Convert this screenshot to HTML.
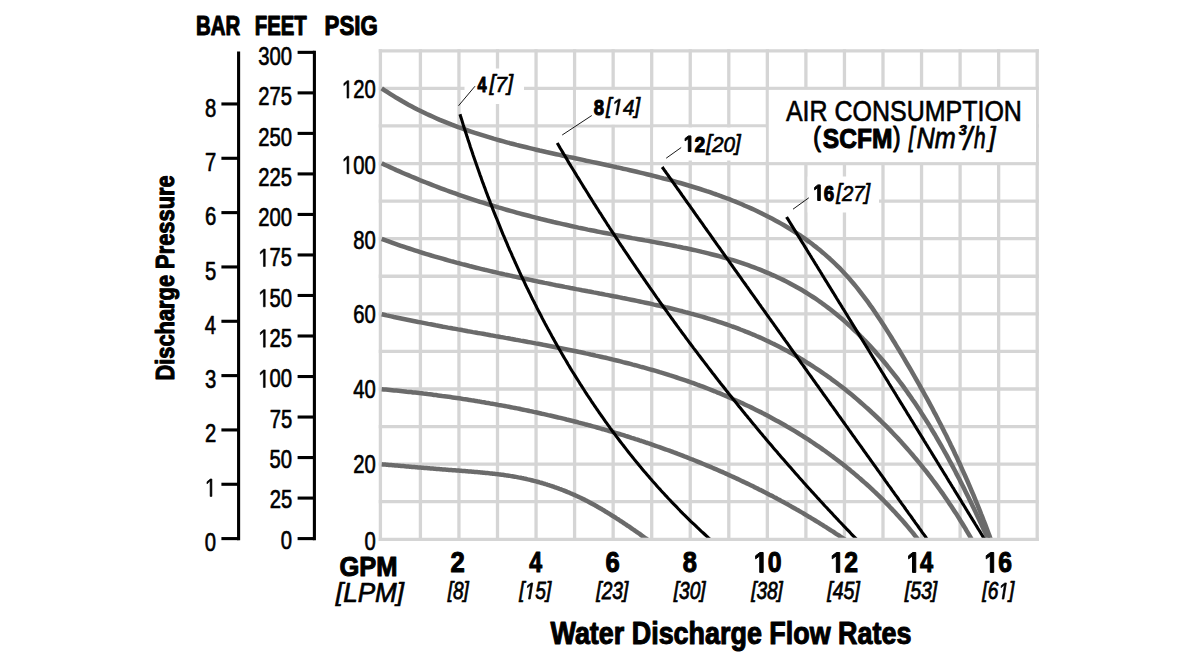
<!DOCTYPE html>
<html><head><meta charset="utf-8"><title>Pump performance curve</title>
<style>html,body{margin:0;padding:0;background:#fff}body{width:1200px;height:660px;overflow:hidden}</style>
</head><body>
<svg width="1200" height="660" viewBox="0 0 1200 660" style="display:block">
<rect width="1200" height="660" fill="#fff"/>
<g stroke="#d5d5d5" stroke-width="3.3" fill="none" stroke-linecap="butt">
<line x1="380.40" y1="49.15" x2="380.40" y2="540.95"/>
<line x1="420.40" y1="49.15" x2="420.40" y2="540.95"/>
<line x1="458.95" y1="49.15" x2="458.95" y2="540.95"/>
<line x1="497.50" y1="49.15" x2="497.50" y2="540.95"/>
<line x1="536.05" y1="49.15" x2="536.05" y2="540.95"/>
<line x1="574.60" y1="49.15" x2="574.60" y2="540.95"/>
<line x1="613.15" y1="49.15" x2="613.15" y2="540.95"/>
<line x1="651.70" y1="49.15" x2="651.70" y2="540.95"/>
<line x1="690.25" y1="49.15" x2="690.25" y2="540.95"/>
<line x1="728.80" y1="49.15" x2="728.80" y2="540.95"/>
<line x1="767.35" y1="49.15" x2="767.35" y2="540.95"/>
<line x1="805.90" y1="49.15" x2="805.90" y2="540.95"/>
<line x1="844.45" y1="49.15" x2="844.45" y2="540.95"/>
<line x1="883.00" y1="49.15" x2="883.00" y2="540.95"/>
<line x1="921.55" y1="49.15" x2="921.55" y2="540.95"/>
<line x1="960.10" y1="49.15" x2="960.10" y2="540.95"/>
<line x1="998.65" y1="49.15" x2="998.65" y2="540.95"/>
<line x1="1037.20" y1="49.15" x2="1037.20" y2="540.95"/>
<line x1="378.75" y1="50.80" x2="1038.85" y2="50.80"/>
<line x1="378.75" y1="88.38" x2="1038.85" y2="88.38"/>
<line x1="378.75" y1="125.95" x2="1038.85" y2="125.95"/>
<line x1="378.75" y1="163.53" x2="1038.85" y2="163.53"/>
<line x1="378.75" y1="201.11" x2="1038.85" y2="201.11"/>
<line x1="378.75" y1="238.68" x2="1038.85" y2="238.68"/>
<line x1="378.75" y1="276.26" x2="1038.85" y2="276.26"/>
<line x1="378.75" y1="313.84" x2="1038.85" y2="313.84"/>
<line x1="378.75" y1="351.42" x2="1038.85" y2="351.42"/>
<line x1="378.75" y1="388.99" x2="1038.85" y2="388.99"/>
<line x1="378.75" y1="426.57" x2="1038.85" y2="426.57"/>
<line x1="378.75" y1="464.15" x2="1038.85" y2="464.15"/>
<line x1="378.75" y1="501.72" x2="1038.85" y2="501.72"/>
<line x1="378.75" y1="539.30" x2="1038.85" y2="539.30"/>
</g>
<rect x="768.8" y="89.9" width="267.20" height="72.20" fill="#fff"/>
<rect x="464.5" y="68.5" width="59.50" height="35.50" fill="#fff"/>
<rect x="576.0" y="89.9" width="74.00" height="34.60" fill="#fff"/>
<rect x="653.2" y="127.5" width="112.50" height="33.00" fill="#fff"/>
<rect x="807.6" y="176.5" width="71.40" height="36.00" fill="#fff"/>
<clipPath id="cp"><rect x="370" y="40" width="680" height="497.65"/></clipPath>
<g clip-path="url(#cp)" fill="none" stroke-linecap="butt" stroke-linejoin="round">
<g stroke="#6b6b6b" stroke-width="4.5">
<path d="M381.7,88.3 L384.6,90.3 L387.5,92.2 L390.5,94.1 L393.4,95.9 L396.4,97.8 L399.4,99.5 L402.4,101.3 L405.4,103.0 L408.4,104.7 L411.4,106.3 L414.5,107.9 L417.5,109.5 L420.6,111.0 L423.7,112.5 L426.8,114.0 L429.9,115.4 L433.0,116.8 L436.1,118.2 L439.2,119.6 L442.3,120.9 L445.5,122.2 L448.6,123.4 L451.8,124.7 L455.0,125.9 L458.2,127.1 L461.4,128.2 L464.6,129.4 L467.8,130.5 L471.0,131.6 L474.2,132.7 L477.4,133.7 L480.6,134.7 L483.9,135.7 L487.1,136.7 L490.4,137.7 L493.6,138.7 L496.9,139.6 L500.1,140.5 L503.4,141.4 L506.7,142.3 L509.9,143.2 L513.2,144.0 L516.5,144.9 L519.8,145.7 L523.1,146.5 L526.4,147.3 L529.7,148.1 L533.0,148.9 L536.3,149.7 L539.6,150.5 L542.9,151.2 L546.2,152.0 L549.5,152.7 L552.9,153.5 L556.2,154.2 L559.5,154.9 L562.9,155.7 L566.2,156.4 L569.5,157.1 L572.9,157.8 L576.2,158.5 L579.6,159.2 L582.9,159.9 L586.2,160.7 L589.6,161.4 L593.0,162.1 L596.3,162.8 L599.7,163.5 L603.0,164.2 L606.4,165.0 L609.8,165.7 L613.1,166.4 L616.5,167.2 L619.9,167.9 L623.2,168.7 L626.6,169.4 L630.0,170.2 L633.4,171.0 L636.7,171.8 L640.1,172.6 L643.5,173.4 L646.8,174.2 L650.2,175.0 L653.6,175.9 L656.9,176.7 L660.3,177.6 L663.6,178.5 L667.0,179.3 L670.3,180.2 L673.7,181.2 L677.0,182.1 L680.3,183.0 L683.6,184.0 L686.9,185.0 L690.2,186.0 L693.5,187.0 L696.8,188.0 L700.1,189.0 L703.4,190.1 L706.6,191.2 L709.9,192.2 L713.1,193.4 L716.4,194.5 L719.6,195.7 L722.8,196.8 L726.0,198.0 L729.2,199.2 L732.4,200.5 L735.5,201.7 L738.7,203.0 L741.8,204.3 L744.9,205.7 L748.0,207.0 L751.1,208.4 L754.2,209.8 L757.3,211.2 L760.3,212.7 L763.3,214.2 L766.3,215.7 L769.3,217.2 L772.3,218.8 L775.3,220.4 L778.2,222.0 L781.1,223.6 L784.0,225.3 L786.9,227.0 L789.8,228.8 L792.6,230.5 L795.4,232.3 L798.2,234.2 L801.0,236.0 L803.7,237.9 L806.5,239.9 L809.2,241.8 L811.9,243.8 L814.5,245.9 L817.1,247.9 L819.8,250.1 L822.3,252.2 L824.9,254.4 L827.4,256.6 L829.9,258.8 L832.4,261.1 L834.9,263.5 L837.3,265.8 L839.7,268.2 L842.1,270.7 L844.4,273.2 L846.7,275.7 L849.0,278.3 L851.3,280.9 L853.5,283.5 L855.7,286.1 L857.9,288.8 L860.0,291.6 L862.1,294.3 L864.2,297.1 L866.3,299.9 L868.4,302.7 L870.4,305.6 L872.5,308.4 L874.4,311.3 L876.4,314.2 L878.4,317.2 L880.3,320.1 L882.2,323.0 L884.2,326.0 L886.0,328.9 L887.9,331.9 L889.8,334.9 L891.6,337.8 L893.4,340.8 L895.3,343.8 L897.1,346.8 L898.9,349.7 L900.6,352.7 L902.4,355.7 L904.2,358.6 L905.9,361.6 L907.6,364.5 L909.4,367.5 L911.1,370.4 L912.8,373.4 L914.5,376.3 L916.2,379.3 L917.8,382.2 L919.5,385.1 L921.1,388.1 L922.8,391.0 L924.4,394.0 L926.0,396.9 L927.7,399.9 L929.3,402.9 L930.9,405.8 L932.5,408.8 L934.0,411.8 L935.6,414.7 L937.2,417.7 L938.7,420.7 L940.3,423.7 L941.8,426.7 L943.3,429.8 L944.8,432.8 L946.4,435.8 L947.9,438.9 L949.4,441.9 L950.8,445.0 L952.3,448.1 L953.8,451.1 L955.2,454.2 L956.7,457.3 L958.1,460.4 L959.6,463.5 L961.0,466.6 L962.4,469.8 L963.8,472.9 L965.2,476.0 L966.6,479.2 L968.0,482.3 L969.3,485.4 L970.7,488.6 L972.0,491.8 L973.4,494.9 L974.7,498.1 L976.0,501.3 L977.3,504.4 L978.6,507.6 L979.9,510.8 L981.1,514.0 L982.4,517.2 L983.6,520.4 L984.9,523.6 L986.1,526.8 L987.3,530.0 L988.5,533.2 L989.7,536.4 L990.8,539.6 L992.0,542.8 L993.1,546.0"/>
<path d="M381.7,163.3 L384.6,164.7 L387.6,166.0 L390.5,167.4 L393.5,168.7 L396.4,170.1 L399.4,171.4 L402.3,172.7 L405.3,174.0 L408.2,175.2 L411.2,176.5 L414.1,177.7 L417.1,178.9 L420.1,180.2 L423.0,181.4 L426.0,182.5 L429.0,183.7 L432.0,184.9 L434.9,186.0 L437.9,187.2 L440.9,188.3 L443.9,189.4 L446.9,190.5 L449.9,191.6 L452.9,192.7 L455.9,193.7 L458.9,194.8 L461.9,195.8 L464.9,196.8 L467.9,197.8 L470.9,198.8 L473.9,199.8 L477.0,200.8 L480.0,201.8 L483.0,202.7 L486.0,203.7 L489.1,204.6 L492.1,205.5 L495.1,206.4 L498.2,207.4 L501.2,208.2 L504.3,209.1 L507.3,210.0 L510.4,210.9 L513.4,211.7 L516.5,212.6 L519.5,213.4 L522.6,214.2 L525.7,215.0 L528.8,215.8 L531.8,216.6 L534.9,217.4 L538.0,218.2 L541.1,219.0 L544.2,219.7 L547.3,220.5 L550.4,221.2 L553.5,222.0 L556.6,222.7 L559.7,223.4 L562.8,224.1 L565.9,224.8 L569.0,225.5 L572.1,226.2 L575.3,226.9 L578.4,227.6 L581.5,228.2 L584.7,228.9 L587.8,229.6 L591.0,230.2 L594.1,230.8 L597.3,231.5 L600.4,232.1 L603.6,232.7 L606.7,233.3 L609.9,233.9 L613.1,234.5 L616.2,235.1 L619.4,235.7 L622.6,236.3 L625.8,236.9 L629.0,237.5 L632.2,238.1 L635.4,238.6 L638.5,239.2 L641.7,239.8 L644.9,240.4 L648.1,240.9 L651.3,241.5 L654.5,242.1 L657.7,242.7 L660.9,243.3 L664.1,243.9 L667.3,244.5 L670.4,245.1 L673.6,245.7 L676.8,246.4 L680.0,247.0 L683.1,247.7 L686.3,248.3 L689.5,249.0 L692.6,249.7 L695.8,250.4 L698.9,251.1 L702.1,251.9 L705.2,252.6 L708.3,253.4 L711.4,254.2 L714.5,255.0 L717.6,255.8 L720.7,256.6 L723.8,257.5 L726.9,258.4 L730.0,259.3 L733.0,260.2 L736.1,261.2 L739.1,262.1 L742.1,263.1 L745.1,264.2 L748.1,265.2 L751.1,266.3 L754.1,267.4 L757.0,268.5 L760.0,269.7 L762.9,270.9 L765.8,272.1 L768.8,273.3 L771.6,274.6 L774.5,275.8 L777.4,277.2 L780.2,278.5 L783.1,279.9 L785.9,281.3 L788.7,282.7 L791.4,284.2 L794.2,285.7 L796.9,287.2 L799.7,288.7 L802.4,290.3 L805.1,292.0 L807.7,293.6 L810.4,295.3 L813.0,297.0 L815.6,298.7 L818.2,300.5 L820.8,302.3 L823.3,304.2 L825.8,306.0 L828.3,307.9 L830.8,309.8 L833.3,311.8 L835.8,313.8 L838.2,315.8 L840.6,317.8 L843.0,319.8 L845.4,321.9 L847.8,324.0 L850.1,326.2 L852.4,328.3 L854.7,330.5 L857.0,332.7 L859.3,334.9 L861.5,337.2 L863.8,339.5 L866.0,341.7 L868.2,344.1 L870.4,346.4 L872.6,348.8 L874.7,351.1 L876.8,353.5 L879.0,355.9 L881.1,358.4 L883.1,360.8 L885.2,363.3 L887.3,365.8 L889.3,368.3 L891.3,370.8 L893.3,373.3 L895.3,375.9 L897.3,378.4 L899.2,381.0 L901.2,383.6 L903.1,386.2 L905.0,388.8 L906.9,391.5 L908.7,394.1 L910.6,396.8 L912.4,399.5 L914.3,402.1 L916.1,404.8 L917.9,407.5 L919.7,410.2 L921.4,413.0 L923.2,415.7 L924.9,418.4 L926.7,421.2 L928.4,423.9 L930.1,426.7 L931.7,429.5 L933.4,432.2 L935.1,435.0 L936.7,437.8 L938.3,440.6 L939.9,443.4 L941.5,446.2 L943.1,449.0 L944.7,451.8 L946.3,454.6 L947.8,457.4 L949.3,460.2 L950.9,463.1 L952.4,465.9 L953.9,468.7 L955.4,471.5 L956.8,474.4 L958.3,477.2 L959.8,480.0 L961.2,482.9 L962.7,485.7 L964.1,488.6 L965.5,491.4 L966.9,494.3 L968.3,497.1 L969.7,500.0 L971.1,502.8 L972.5,505.7 L973.9,508.6 L975.3,511.4 L976.6,514.3 L978.0,517.2 L979.3,520.0 L980.7,522.9 L982.0,525.8 L983.4,528.7 L984.7,531.5 L986.1,534.4 L987.4,537.3 L988.7,540.2 L990.1,543.1 L991.4,546.0"/>
<path d="M381.7,238.9 L384.4,239.9 L387.2,240.9 L389.9,241.9 L392.6,242.9 L395.4,243.9 L398.1,244.8 L400.9,245.8 L403.6,246.7 L406.4,247.6 L409.1,248.5 L411.9,249.4 L414.7,250.3 L417.4,251.2 L420.2,252.1 L423.0,253.0 L425.7,253.8 L428.5,254.6 L431.3,255.5 L434.1,256.3 L436.9,257.1 L439.7,257.9 L442.5,258.7 L445.3,259.5 L448.1,260.3 L450.9,261.1 L453.7,261.8 L456.5,262.6 L459.3,263.3 L462.1,264.1 L464.9,264.8 L467.7,265.5 L470.5,266.3 L473.4,267.0 L476.2,267.7 L479.0,268.4 L481.8,269.1 L484.7,269.8 L487.5,270.4 L490.4,271.1 L493.2,271.8 L496.0,272.4 L498.9,273.1 L501.7,273.7 L504.6,274.4 L507.4,275.0 L510.3,275.6 L513.1,276.3 L516.0,276.9 L518.8,277.5 L521.7,278.1 L524.6,278.7 L527.4,279.3 L530.3,279.9 L533.1,280.5 L536.0,281.1 L538.9,281.7 L541.7,282.3 L544.6,282.9 L547.5,283.4 L550.4,284.0 L553.2,284.6 L556.1,285.2 L559.0,285.7 L561.9,286.3 L564.8,286.9 L567.6,287.4 L570.5,288.0 L573.4,288.5 L576.3,289.1 L579.2,289.6 L582.1,290.2 L585.0,290.7 L587.8,291.3 L590.7,291.8 L593.6,292.4 L596.5,292.9 L599.4,293.5 L602.3,294.0 L605.2,294.6 L608.1,295.1 L610.9,295.7 L613.8,296.3 L616.7,296.8 L619.6,297.4 L622.5,298.0 L625.4,298.5 L628.2,299.1 L631.1,299.7 L634.0,300.3 L636.9,300.9 L639.7,301.5 L642.6,302.1 L645.5,302.7 L648.3,303.3 L651.2,303.9 L654.1,304.6 L656.9,305.2 L659.8,305.8 L662.6,306.5 L665.5,307.2 L668.3,307.8 L671.2,308.5 L674.0,309.2 L676.8,309.9 L679.6,310.6 L682.5,311.3 L685.3,312.1 L688.1,312.8 L690.9,313.6 L693.7,314.3 L696.5,315.1 L699.3,315.9 L702.1,316.7 L704.9,317.5 L707.6,318.3 L710.4,319.2 L713.2,320.0 L715.9,320.9 L718.7,321.8 L721.4,322.7 L724.2,323.6 L726.9,324.5 L729.6,325.5 L732.3,326.5 L735.0,327.4 L737.7,328.4 L740.4,329.5 L743.1,330.5 L745.8,331.6 L748.5,332.6 L751.1,333.7 L753.8,334.8 L756.4,336.0 L759.1,337.1 L761.7,338.3 L764.3,339.5 L766.9,340.7 L769.5,341.9 L772.1,343.2 L774.7,344.4 L777.3,345.7 L779.8,347.0 L782.4,348.4 L784.9,349.7 L787.5,351.1 L790.0,352.5 L792.5,353.9 L795.0,355.3 L797.5,356.8 L800.0,358.3 L802.5,359.7 L805.0,361.3 L807.4,362.8 L809.9,364.3 L812.3,365.9 L814.7,367.5 L817.1,369.1 L819.5,370.7 L821.9,372.3 L824.3,374.0 L826.7,375.7 L829.1,377.3 L831.4,379.1 L833.8,380.8 L836.1,382.5 L838.4,384.3 L840.7,386.0 L843.0,387.8 L845.3,389.6 L847.6,391.4 L849.9,393.3 L852.1,395.1 L854.4,397.0 L856.6,398.9 L858.8,400.8 L861.0,402.7 L863.2,404.6 L865.4,406.6 L867.6,408.5 L869.8,410.5 L871.9,412.5 L874.1,414.5 L876.2,416.5 L878.3,418.5 L880.4,420.5 L882.5,422.6 L884.6,424.6 L886.7,426.7 L888.8,428.8 L890.8,430.9 L892.8,433.0 L894.9,435.2 L896.9,437.3 L898.9,439.4 L900.9,441.6 L902.8,443.8 L904.8,446.0 L906.8,448.2 L908.7,450.4 L910.6,452.6 L912.5,454.8 L914.4,457.1 L916.3,459.3 L918.2,461.6 L920.1,463.9 L921.9,466.1 L923.7,468.4 L925.6,470.7 L927.4,473.0 L929.2,475.4 L931.0,477.7 L932.7,480.0 L934.5,482.4 L936.2,484.7 L938.0,487.1 L939.7,489.5 L941.4,491.9 L943.1,494.2 L944.7,496.6 L946.4,499.0 L948.1,501.5 L949.7,503.9 L951.3,506.3 L952.9,508.7 L954.5,511.2 L956.1,513.6 L957.7,516.1 L959.2,518.5 L960.7,521.0 L962.3,523.5 L963.8,526.0 L965.3,528.4 L966.7,530.9 L968.2,533.4 L969.7,535.9 L971.1,538.4 L972.5,541.0 L973.9,543.5 L975.3,546.0"/>
<path d="M381.7,314.3 L384.1,314.8 L386.6,315.4 L389.0,315.9 L391.4,316.4 L393.9,317.0 L396.3,317.5 L398.7,318.0 L401.2,318.5 L403.6,319.0 L406.1,319.5 L408.5,320.0 L411.0,320.5 L413.4,321.0 L415.9,321.5 L418.3,322.0 L420.8,322.4 L423.3,322.9 L425.7,323.4 L428.2,323.9 L430.7,324.3 L433.1,324.8 L435.6,325.3 L438.1,325.7 L440.6,326.2 L443.0,326.7 L445.5,327.1 L448.0,327.6 L450.5,328.0 L453.0,328.5 L455.5,328.9 L458.0,329.4 L460.5,329.8 L463.0,330.3 L465.4,330.7 L467.9,331.2 L470.4,331.6 L472.9,332.1 L475.4,332.5 L477.9,333.0 L480.4,333.4 L482.9,333.8 L485.5,334.3 L488.0,334.7 L490.5,335.2 L493.0,335.6 L495.5,336.1 L498.0,336.5 L500.5,337.0 L503.0,337.4 L505.5,337.9 L508.0,338.3 L510.5,338.8 L513.0,339.2 L515.6,339.7 L518.1,340.1 L520.6,340.6 L523.1,341.0 L525.6,341.5 L528.1,342.0 L530.6,342.4 L533.1,342.9 L535.6,343.4 L538.2,343.8 L540.7,344.3 L543.2,344.8 L545.7,345.2 L548.2,345.7 L550.7,346.2 L553.2,346.7 L555.7,347.2 L558.2,347.7 L560.7,348.2 L563.2,348.7 L565.7,349.2 L568.2,349.7 L570.8,350.2 L573.3,350.7 L575.8,351.2 L578.3,351.8 L580.8,352.3 L583.2,352.8 L585.7,353.4 L588.2,353.9 L590.7,354.5 L593.2,355.0 L595.7,355.6 L598.2,356.1 L600.7,356.7 L603.2,357.3 L605.7,357.8 L608.1,358.4 L610.6,359.0 L613.1,359.6 L615.6,360.2 L618.0,360.8 L620.5,361.4 L623.0,362.1 L625.5,362.7 L627.9,363.3 L630.4,363.9 L632.8,364.6 L635.3,365.2 L637.8,365.9 L640.2,366.6 L642.7,367.2 L645.1,367.9 L647.5,368.6 L650.0,369.3 L652.4,370.0 L654.9,370.7 L657.3,371.4 L659.7,372.2 L662.2,372.9 L664.6,373.6 L667.0,374.4 L669.4,375.2 L671.8,375.9 L674.2,376.7 L676.7,377.5 L679.1,378.3 L681.5,379.1 L683.9,379.9 L686.2,380.7 L688.6,381.5 L691.0,382.4 L693.4,383.2 L695.8,384.1 L698.2,385.0 L700.5,385.8 L702.9,386.7 L705.3,387.6 L707.6,388.5 L710.0,389.5 L712.3,390.4 L714.7,391.3 L717.0,392.3 L719.3,393.2 L721.7,394.2 L724.0,395.2 L726.3,396.1 L728.7,397.1 L731.0,398.1 L733.3,399.2 L735.6,400.2 L737.9,401.2 L740.2,402.3 L742.5,403.3 L744.7,404.4 L747.0,405.5 L749.3,406.5 L751.6,407.6 L753.8,408.7 L756.1,409.9 L758.3,411.0 L760.6,412.1 L762.8,413.3 L765.1,414.4 L767.3,415.6 L769.5,416.8 L771.7,418.0 L773.9,419.2 L776.1,420.4 L778.3,421.6 L780.5,422.8 L782.7,424.0 L784.9,425.3 L787.1,426.6 L789.2,427.8 L791.4,429.1 L793.6,430.4 L795.7,431.7 L797.9,433.0 L800.0,434.3 L802.1,435.7 L804.2,437.0 L806.4,438.4 L808.5,439.7 L810.6,441.1 L812.7,442.5 L814.7,443.9 L816.8,445.3 L818.9,446.7 L821.0,448.1 L823.0,449.6 L825.1,451.0 L827.1,452.5 L829.2,454.0 L831.2,455.5 L833.2,456.9 L835.2,458.5 L837.2,460.0 L839.2,461.5 L841.2,463.0 L843.2,464.6 L845.2,466.1 L847.1,467.7 L849.1,469.3 L851.0,470.9 L853.0,472.5 L854.9,474.1 L856.8,475.7 L858.7,477.4 L860.6,479.0 L862.5,480.7 L864.4,482.4 L866.3,484.0 L868.2,485.7 L870.0,487.4 L871.9,489.2 L873.7,490.9 L875.6,492.6 L877.4,494.4 L879.2,496.1 L881.0,497.9 L882.8,499.7 L884.6,501.5 L886.4,503.3 L888.2,505.1 L889.9,507.0 L891.7,508.8 L893.4,510.7 L895.2,512.5 L896.9,514.4 L898.6,516.3 L900.3,518.2 L902.0,520.1 L903.7,522.0 L905.4,524.0 L907.0,525.9 L908.7,527.9 L910.3,529.9 L912.0,531.9 L913.6,533.8 L915.2,535.9 L916.8,537.9 L918.4,539.9 L920.0,542.0 L921.5,544.0 L923.1,546.1"/>
<path d="M381.7,389.2 L383.8,389.4 L385.9,389.6 L388.0,389.8 L390.1,390.0 L392.1,390.2 L394.2,390.4 L396.3,390.6 L398.4,390.8 L400.5,391.0 L402.6,391.2 L404.7,391.4 L406.7,391.7 L408.8,391.9 L410.9,392.1 L413.0,392.4 L415.1,392.6 L417.2,392.8 L419.3,393.1 L421.4,393.3 L423.4,393.6 L425.5,393.8 L427.6,394.1 L429.7,394.3 L431.8,394.6 L433.9,394.9 L436.0,395.1 L438.0,395.4 L440.1,395.7 L442.2,396.0 L444.3,396.2 L446.4,396.5 L448.5,396.8 L450.6,397.1 L452.6,397.4 L454.7,397.7 L456.8,398.0 L458.9,398.3 L461.0,398.6 L463.1,399.0 L465.2,399.3 L467.2,399.6 L469.3,399.9 L471.4,400.3 L473.5,400.6 L475.6,400.9 L477.6,401.3 L479.7,401.6 L481.8,402.0 L483.9,402.3 L486.0,402.7 L488.0,403.0 L490.1,403.4 L492.2,403.7 L494.3,404.1 L496.4,404.5 L498.4,404.9 L500.5,405.2 L502.6,405.6 L504.7,406.0 L506.7,406.4 L508.8,406.8 L510.9,407.2 L512.9,407.6 L515.0,408.0 L517.1,408.4 L519.2,408.8 L521.2,409.3 L523.3,409.7 L525.4,410.1 L527.4,410.5 L529.5,411.0 L531.6,411.4 L533.6,411.9 L535.7,412.3 L537.7,412.7 L539.8,413.2 L541.9,413.7 L543.9,414.1 L546.0,414.6 L548.1,415.1 L550.1,415.5 L552.2,416.0 L554.2,416.5 L556.3,417.0 L558.3,417.5 L560.4,417.9 L562.4,418.4 L564.5,418.9 L566.5,419.5 L568.6,420.0 L570.6,420.5 L572.7,421.0 L574.7,421.5 L576.8,422.0 L578.8,422.6 L580.9,423.1 L582.9,423.6 L584.9,424.2 L587.0,424.7 L589.0,425.3 L591.0,425.8 L593.1,426.4 L595.1,426.9 L597.1,427.5 L599.2,428.1 L601.2,428.7 L603.2,429.2 L605.3,429.8 L607.3,430.4 L609.3,431.0 L611.3,431.6 L613.4,432.2 L615.4,432.8 L617.4,433.4 L619.4,434.0 L621.4,434.6 L623.4,435.2 L625.5,435.9 L627.5,436.5 L629.5,437.1 L631.5,437.8 L633.5,438.4 L635.5,439.1 L637.5,439.7 L639.5,440.4 L641.5,441.0 L643.5,441.7 L645.5,442.4 L647.5,443.0 L649.5,443.7 L651.5,444.4 L653.5,445.1 L655.5,445.8 L657.5,446.5 L659.5,447.2 L661.4,447.9 L663.4,448.6 L665.4,449.3 L667.4,450.0 L669.4,450.7 L671.3,451.4 L673.3,452.2 L675.3,452.9 L677.3,453.7 L679.2,454.4 L681.2,455.1 L683.2,455.9 L685.1,456.7 L687.1,457.4 L689.0,458.2 L691.0,459.0 L693.0,459.7 L694.9,460.5 L696.9,461.3 L698.8,462.1 L700.8,462.9 L702.7,463.7 L704.6,464.5 L706.6,465.3 L708.5,466.1 L710.5,466.9 L712.4,467.8 L714.3,468.6 L716.3,469.4 L718.2,470.2 L720.1,471.1 L722.1,471.9 L724.0,472.8 L725.9,473.6 L727.8,474.5 L729.7,475.4 L731.6,476.2 L733.6,477.1 L735.5,478.0 L737.4,478.9 L739.3,479.8 L741.2,480.7 L743.1,481.6 L745.0,482.5 L746.9,483.4 L748.8,484.3 L750.7,485.2 L752.5,486.1 L754.4,487.1 L756.3,488.0 L758.2,488.9 L760.1,489.9 L762.0,490.8 L763.8,491.8 L765.7,492.7 L767.6,493.7 L769.4,494.7 L771.3,495.6 L773.2,496.6 L775.0,497.6 L776.9,498.6 L778.7,499.6 L780.6,500.6 L782.4,501.6 L784.3,502.6 L786.1,503.6 L788.0,504.6 L789.8,505.6 L791.6,506.7 L793.5,507.7 L795.3,508.7 L797.1,509.8 L799.0,510.8 L800.8,511.9 L802.6,512.9 L804.4,514.0 L806.2,515.1 L808.0,516.2 L809.8,517.2 L811.6,518.3 L813.4,519.4 L815.2,520.5 L817.0,521.6 L818.8,522.7 L820.6,523.8 L822.4,524.9 L824.2,526.1 L826.0,527.2 L827.8,528.3 L829.5,529.5 L831.3,530.6 L833.1,531.7 L834.8,532.9 L836.6,534.1 L838.4,535.2 L840.1,536.4 L841.9,537.6 L843.6,538.7 L845.4,539.9 L847.1,541.1 L848.9,542.3 L850.6,543.5 L852.3,544.7 L854.1,545.9"/>
<path d="M381.7,464.3 L382.9,464.4 L384.1,464.5 L385.3,464.6 L386.5,464.7 L387.7,464.8 L388.9,464.9 L390.1,465.0 L391.3,465.1 L392.6,465.2 L393.8,465.3 L395.0,465.4 L396.2,465.5 L397.4,465.6 L398.6,465.7 L399.8,465.8 L401.0,465.9 L402.3,466.0 L403.5,466.1 L404.7,466.2 L405.9,466.4 L407.1,466.5 L408.4,466.6 L409.6,466.7 L410.8,466.8 L412.0,466.9 L413.2,467.0 L414.5,467.1 L415.7,467.2 L416.9,467.3 L418.1,467.4 L419.4,467.5 L420.6,467.6 L421.8,467.7 L423.0,467.8 L424.3,467.9 L425.5,468.0 L426.7,468.1 L428.0,468.2 L429.2,468.3 L430.4,468.4 L431.6,468.5 L432.9,468.6 L434.1,468.7 L435.3,468.8 L436.6,468.9 L437.8,469.0 L439.0,469.1 L440.3,469.2 L441.5,469.3 L442.7,469.4 L443.9,469.5 L445.2,469.6 L446.4,469.7 L447.6,469.8 L448.9,469.9 L450.1,470.0 L451.3,470.1 L452.6,470.2 L453.8,470.3 L455.0,470.3 L456.3,470.4 L457.5,470.5 L458.7,470.6 L459.9,470.7 L461.2,470.8 L462.4,470.9 L463.6,471.0 L464.9,471.1 L466.1,471.2 L467.3,471.3 L468.6,471.4 L469.8,471.5 L471.0,471.6 L472.2,471.7 L473.5,471.8 L474.7,471.9 L475.9,472.0 L477.1,472.1 L478.4,472.2 L479.6,472.3 L480.8,472.4 L482.0,472.5 L483.3,472.7 L484.5,472.8 L485.7,472.9 L486.9,473.0 L488.1,473.1 L489.4,473.3 L490.6,473.4 L491.8,473.5 L493.0,473.7 L494.2,473.8 L495.4,473.9 L496.6,474.1 L497.9,474.2 L499.1,474.4 L500.3,474.5 L501.5,474.7 L502.7,474.8 L503.9,475.0 L505.1,475.2 L506.3,475.4 L507.5,475.5 L508.7,475.7 L509.9,475.9 L511.1,476.1 L512.3,476.3 L513.5,476.5 L514.7,476.7 L515.9,476.9 L517.1,477.1 L518.3,477.4 L519.5,477.6 L520.7,477.8 L521.9,478.1 L523.1,478.3 L524.3,478.6 L525.5,478.8 L526.7,479.1 L527.8,479.4 L529.0,479.6 L530.2,479.9 L531.4,480.2 L532.6,480.5 L533.7,480.8 L534.9,481.1 L536.1,481.4 L537.3,481.7 L538.4,482.0 L539.6,482.4 L540.8,482.7 L541.9,483.0 L543.1,483.4 L544.3,483.7 L545.4,484.1 L546.6,484.4 L547.7,484.8 L548.9,485.2 L550.1,485.6 L551.2,485.9 L552.4,486.3 L553.5,486.7 L554.6,487.1 L555.8,487.5 L556.9,487.9 L558.1,488.3 L559.2,488.8 L560.4,489.2 L561.5,489.6 L562.6,490.0 L563.7,490.5 L564.9,490.9 L566.0,491.4 L567.1,491.9 L568.3,492.3 L569.4,492.8 L570.5,493.3 L571.6,493.7 L572.7,494.2 L573.8,494.7 L575.0,495.2 L576.1,495.7 L577.2,496.2 L578.3,496.7 L579.4,497.3 L580.5,497.8 L581.6,498.3 L582.7,498.9 L583.8,499.4 L584.9,499.9 L586.0,500.5 L587.1,501.1 L588.1,501.6 L589.2,502.2 L590.3,502.8 L591.4,503.4 L592.5,503.9 L593.6,504.5 L594.6,505.1 L595.7,505.7 L596.8,506.3 L597.9,507.0 L598.9,507.6 L600.0,508.2 L601.1,508.8 L602.1,509.4 L603.2,510.1 L604.3,510.7 L605.3,511.4 L606.4,512.0 L607.4,512.6 L608.5,513.3 L609.5,513.9 L610.6,514.6 L611.6,515.3 L612.7,515.9 L613.7,516.6 L614.8,517.2 L615.8,517.9 L616.9,518.6 L617.9,519.2 L618.9,519.9 L620.0,520.6 L621.0,521.3 L622.0,521.9 L623.1,522.6 L624.1,523.3 L625.1,524.0 L626.1,524.7 L627.1,525.4 L628.2,526.0 L629.2,526.7 L630.2,527.4 L631.2,528.1 L632.2,528.8 L633.2,529.5 L634.2,530.2 L635.2,530.9 L636.3,531.6 L637.3,532.3 L638.3,533.0 L639.3,533.7 L640.3,534.4 L641.2,535.1 L642.2,535.9 L643.2,536.6 L644.2,537.3 L645.2,538.0 L646.2,538.7 L647.2,539.4 L648.2,540.2 L649.1,540.9 L650.1,541.6 L651.1,542.3 L652.1,543.1 L653.1,543.8 L654.0,544.5 L655.0,545.3 L656.0,546.0"/>
</g>
<g stroke="#000" stroke-width="3.1">
<path d="M460.0,114.3 L460.6,116.3 L461.3,118.4 L461.9,120.4 L462.5,122.4 L463.1,124.4 L463.8,126.5 L464.4,128.5 L465.1,130.5 L465.7,132.5 L466.4,134.5 L467.0,136.6 L467.7,138.6 L468.3,140.6 L469.0,142.6 L469.7,144.6 L470.3,146.7 L471.0,148.7 L471.7,150.7 L472.4,152.7 L473.0,154.7 L473.7,156.7 L474.4,158.8 L475.1,160.8 L475.8,162.8 L476.5,164.8 L477.2,166.8 L477.9,168.8 L478.6,170.8 L479.3,172.8 L480.0,174.8 L480.8,176.8 L481.5,178.9 L482.2,180.9 L482.9,182.9 L483.7,184.9 L484.4,186.9 L485.2,188.9 L485.9,190.9 L486.6,192.9 L487.4,194.9 L488.1,196.9 L488.9,198.9 L489.7,200.8 L490.4,202.8 L491.2,204.8 L492.0,206.8 L492.7,208.8 L493.5,210.8 L494.3,212.8 L495.1,214.8 L495.9,216.8 L496.7,218.7 L497.5,220.7 L498.3,222.7 L499.1,224.7 L499.9,226.7 L500.7,228.6 L501.5,230.6 L502.3,232.6 L503.1,234.6 L504.0,236.5 L504.8,238.5 L505.6,240.5 L506.5,242.4 L507.3,244.4 L508.1,246.4 L509.0,248.3 L509.8,250.3 L510.7,252.2 L511.6,254.2 L512.4,256.1 L513.3,258.1 L514.2,260.0 L515.0,262.0 L515.9,263.9 L516.8,265.9 L517.7,267.8 L518.6,269.8 L519.4,271.7 L520.3,273.7 L521.2,275.6 L522.1,277.5 L523.1,279.5 L524.0,281.4 L524.9,283.3 L525.8,285.3 L526.7,287.2 L527.7,289.1 L528.6,291.0 L529.5,292.9 L530.5,294.9 L531.4,296.8 L532.3,298.7 L533.3,300.6 L534.3,302.5 L535.2,304.4 L536.2,306.3 L537.1,308.2 L538.1,310.1 L539.1,312.0 L540.1,313.9 L541.1,315.8 L542.0,317.7 L543.0,319.6 L544.0,321.5 L545.0,323.4 L546.0,325.2 L547.0,327.1 L548.0,329.0 L549.1,330.9 L550.1,332.8 L551.1,334.6 L552.1,336.5 L553.2,338.4 L554.2,340.2 L555.2,342.1 L556.3,343.9 L557.3,345.8 L558.4,347.6 L559.4,349.5 L560.5,351.3 L561.6,353.2 L562.6,355.0 L563.7,356.9 L564.8,358.7 L565.9,360.5 L567.0,362.4 L568.0,364.2 L569.1,366.0 L570.2,367.9 L571.3,369.7 L572.4,371.5 L573.6,373.3 L574.7,375.1 L575.8,376.9 L576.9,378.7 L578.1,380.5 L579.2,382.3 L580.3,384.1 L581.5,385.9 L582.6,387.7 L583.8,389.5 L584.9,391.3 L586.1,393.1 L587.2,394.9 L588.4,396.6 L589.6,398.4 L590.8,400.2 L591.9,402.0 L593.1,403.7 L594.3,405.5 L595.5,407.2 L596.7,409.0 L597.9,410.7 L599.1,412.5 L600.3,414.2 L601.6,416.0 L602.8,417.7 L604.0,419.4 L605.2,421.2 L606.5,422.9 L607.7,424.6 L609.0,426.4 L610.2,428.1 L611.5,429.8 L612.7,431.5 L614.0,433.2 L615.3,434.9 L616.5,436.6 L617.8,438.3 L619.1,440.0 L620.4,441.7 L621.7,443.4 L623.0,445.1 L624.3,446.7 L625.6,448.4 L626.9,450.1 L628.2,451.8 L629.5,453.4 L630.8,455.1 L632.2,456.7 L633.5,458.4 L634.8,460.1 L636.2,461.7 L637.5,463.3 L638.9,465.0 L640.2,466.6 L641.6,468.2 L643.0,469.9 L644.3,471.5 L645.7,473.1 L647.1,474.7 L648.5,476.3 L649.9,478.0 L651.3,479.6 L652.7,481.2 L654.1,482.7 L655.5,484.3 L656.9,485.9 L658.3,487.5 L659.8,489.1 L661.2,490.7 L662.6,492.2 L664.1,493.8 L665.5,495.4 L667.0,496.9 L668.4,498.5 L669.9,500.0 L671.3,501.6 L672.8,503.1 L674.3,504.7 L675.8,506.2 L677.3,507.7 L678.7,509.2 L680.2,510.8 L681.7,512.3 L683.2,513.8 L684.8,515.3 L686.3,516.8 L687.8,518.3 L689.3,519.8 L690.8,521.3 L692.4,522.8 L693.9,524.2 L695.5,525.7 L697.0,527.2 L698.6,528.7 L700.1,530.1 L701.7,531.6 L703.3,533.0 L704.9,534.5 L706.4,535.9 L708.0,537.4 L709.6,538.8 L711.2,540.2 L712.8,541.6 L714.4,543.1 L716.0,544.5 L717.7,545.9"/>
<path d="M557.2,143.0 L558.3,144.8 L559.4,146.7 L560.4,148.5 L561.5,150.3 L562.6,152.1 L563.7,154.0 L564.8,155.8 L565.9,157.6 L567.0,159.4 L568.0,161.2 L569.1,163.1 L570.2,164.9 L571.3,166.7 L572.4,168.5 L573.5,170.3 L574.6,172.1 L575.7,173.9 L576.8,175.8 L578.0,177.6 L579.1,179.4 L580.2,181.2 L581.3,183.0 L582.4,184.8 L583.5,186.6 L584.6,188.4 L585.8,190.2 L586.9,192.0 L588.0,193.8 L589.1,195.6 L590.2,197.4 L591.4,199.2 L592.5,201.0 L593.6,202.8 L594.8,204.6 L595.9,206.4 L597.0,208.2 L598.2,210.0 L599.3,211.8 L600.5,213.5 L601.6,215.3 L602.7,217.1 L603.9,218.9 L605.0,220.7 L606.2,222.5 L607.3,224.3 L608.5,226.0 L609.6,227.8 L610.8,229.6 L612.0,231.4 L613.1,233.2 L614.3,234.9 L615.4,236.7 L616.6,238.5 L617.8,240.2 L618.9,242.0 L620.1,243.8 L621.3,245.6 L622.5,247.3 L623.6,249.1 L624.8,250.9 L626.0,252.6 L627.2,254.4 L628.4,256.2 L629.5,257.9 L630.7,259.7 L631.9,261.4 L633.1,263.2 L634.3,264.9 L635.5,266.7 L636.7,268.5 L637.9,270.2 L639.1,272.0 L640.3,273.7 L641.5,275.5 L642.7,277.2 L643.9,279.0 L645.1,280.7 L646.3,282.5 L647.5,284.2 L648.7,285.9 L649.9,287.7 L651.1,289.4 L652.4,291.2 L653.6,292.9 L654.8,294.6 L656.0,296.4 L657.2,298.1 L658.5,299.8 L659.7,301.6 L660.9,303.3 L662.1,305.0 L663.4,306.8 L664.6,308.5 L665.8,310.2 L667.1,311.9 L668.3,313.7 L669.6,315.4 L670.8,317.1 L672.0,318.8 L673.3,320.5 L674.5,322.3 L675.8,324.0 L677.0,325.7 L678.3,327.4 L679.5,329.1 L680.8,330.8 L682.0,332.5 L683.3,334.2 L684.6,335.9 L685.8,337.7 L687.1,339.4 L688.4,341.1 L689.6,342.8 L690.9,344.5 L692.2,346.2 L693.4,347.9 L694.7,349.6 L696.0,351.2 L697.3,352.9 L698.5,354.6 L699.8,356.3 L701.1,358.0 L702.4,359.7 L703.7,361.4 L705.0,363.1 L706.3,364.8 L707.5,366.4 L708.8,368.1 L710.1,369.8 L711.4,371.5 L712.7,373.2 L714.0,374.8 L715.3,376.5 L716.6,378.2 L717.9,379.9 L719.2,381.5 L720.5,383.2 L721.9,384.9 L723.2,386.5 L724.5,388.2 L725.8,389.9 L727.1,391.5 L728.4,393.2 L729.8,394.9 L731.1,396.5 L732.4,398.2 L733.7,399.8 L735.1,401.5 L736.4,403.1 L737.7,404.8 L739.0,406.4 L740.4,408.1 L741.7,409.7 L743.1,411.4 L744.4,413.0 L745.7,414.7 L747.1,416.3 L748.4,418.0 L749.8,419.6 L751.1,421.2 L752.5,422.9 L753.8,424.5 L755.2,426.1 L756.5,427.8 L757.9,429.4 L759.2,431.0 L760.6,432.7 L762.0,434.3 L763.3,435.9 L764.7,437.5 L766.1,439.2 L767.4,440.8 L768.8,442.4 L770.2,444.0 L771.5,445.6 L772.9,447.3 L774.3,448.9 L775.7,450.5 L777.1,452.1 L778.4,453.7 L779.8,455.3 L781.2,456.9 L782.6,458.5 L784.0,460.1 L785.4,461.7 L786.8,463.3 L788.2,464.9 L789.6,466.5 L791.0,468.1 L792.4,469.7 L793.8,471.3 L795.2,472.9 L796.6,474.5 L798.0,476.1 L799.4,477.7 L800.8,479.2 L802.2,480.8 L803.6,482.4 L805.0,484.0 L806.4,485.6 L807.9,487.2 L809.3,488.7 L810.7,490.3 L812.1,491.9 L813.6,493.4 L815.0,495.0 L816.4,496.6 L817.8,498.2 L819.3,499.7 L820.7,501.3 L822.1,502.8 L823.6,504.4 L825.0,506.0 L826.5,507.5 L827.9,509.1 L829.4,510.6 L830.8,512.2 L832.3,513.7 L833.7,515.3 L835.2,516.8 L836.6,518.4 L838.1,519.9 L839.5,521.5 L841.0,523.0 L842.4,524.5 L843.9,526.1 L845.4,527.6 L846.8,529.2 L848.3,530.7 L849.8,532.2 L851.2,533.8 L852.7,535.3 L854.2,536.8 L855.7,538.3 L857.1,539.9 L858.6,541.4 L860.1,542.9 L861.6,544.4 L863.1,545.9"/>
<path d="M662.2,167.0 L663.3,168.6 L664.4,170.2 L665.6,171.8 L666.7,173.4 L667.8,174.9 L668.9,176.5 L670.1,178.1 L671.2,179.7 L672.3,181.3 L673.4,182.9 L674.6,184.5 L675.7,186.1 L676.8,187.7 L677.9,189.3 L679.1,190.8 L680.2,192.4 L681.3,194.0 L682.4,195.6 L683.6,197.2 L684.7,198.8 L685.8,200.4 L686.9,202.0 L688.1,203.6 L689.2,205.1 L690.3,206.7 L691.4,208.3 L692.6,209.9 L693.7,211.5 L694.8,213.1 L695.9,214.7 L697.1,216.3 L698.2,217.9 L699.3,219.4 L700.4,221.0 L701.6,222.6 L702.7,224.2 L703.8,225.8 L704.9,227.4 L706.1,229.0 L707.2,230.6 L708.3,232.2 L709.4,233.7 L710.6,235.3 L711.7,236.9 L712.8,238.5 L713.9,240.1 L715.1,241.7 L716.2,243.3 L717.3,244.9 L718.4,246.4 L719.6,248.0 L720.7,249.6 L721.8,251.2 L723.0,252.8 L724.1,254.4 L725.2,256.0 L726.3,257.6 L727.5,259.1 L728.6,260.7 L729.7,262.3 L730.8,263.9 L732.0,265.5 L733.1,267.1 L734.2,268.7 L735.3,270.3 L736.5,271.8 L737.6,273.4 L738.7,275.0 L739.9,276.6 L741.0,278.2 L742.1,279.8 L743.2,281.4 L744.4,283.0 L745.5,284.5 L746.6,286.1 L747.8,287.7 L748.9,289.3 L750.0,290.9 L751.1,292.5 L752.3,294.1 L753.4,295.6 L754.5,297.2 L755.6,298.8 L756.8,300.4 L757.9,302.0 L759.0,303.6 L760.2,305.2 L761.3,306.8 L762.4,308.3 L763.5,309.9 L764.7,311.5 L765.8,313.1 L766.9,314.7 L768.1,316.3 L769.2,317.9 L770.3,319.4 L771.4,321.0 L772.6,322.6 L773.7,324.2 L774.8,325.8 L776.0,327.4 L777.1,329.0 L778.2,330.5 L779.3,332.1 L780.5,333.7 L781.6,335.3 L782.7,336.9 L783.9,338.5 L785.0,340.1 L786.1,341.6 L787.3,343.2 L788.4,344.8 L789.5,346.4 L790.6,348.0 L791.8,349.6 L792.9,351.2 L794.0,352.7 L795.2,354.3 L796.3,355.9 L797.4,357.5 L798.5,359.1 L799.7,360.7 L800.8,362.3 L801.9,363.8 L803.1,365.4 L804.2,367.0 L805.3,368.6 L806.5,370.2 L807.6,371.8 L808.7,373.4 L809.8,374.9 L811.0,376.5 L812.1,378.1 L813.2,379.7 L814.4,381.3 L815.5,382.9 L816.6,384.5 L817.8,386.0 L818.9,387.6 L820.0,389.2 L821.2,390.8 L822.3,392.4 L823.4,394.0 L824.5,395.5 L825.7,397.1 L826.8,398.7 L827.9,400.3 L829.1,401.9 L830.2,403.5 L831.3,405.1 L832.5,406.6 L833.6,408.2 L834.7,409.8 L835.9,411.4 L837.0,413.0 L838.1,414.6 L839.2,416.1 L840.4,417.7 L841.5,419.3 L842.6,420.9 L843.8,422.5 L844.9,424.1 L846.0,425.7 L847.2,427.2 L848.3,428.8 L849.4,430.4 L850.6,432.0 L851.7,433.6 L852.8,435.2 L854.0,436.7 L855.1,438.3 L856.2,439.9 L857.3,441.5 L858.5,443.1 L859.6,444.7 L860.7,446.2 L861.9,447.8 L863.0,449.4 L864.1,451.0 L865.3,452.6 L866.4,454.2 L867.5,455.8 L868.7,457.3 L869.8,458.9 L870.9,460.5 L872.1,462.1 L873.2,463.7 L874.3,465.3 L875.5,466.8 L876.6,468.4 L877.7,470.0 L878.9,471.6 L880.0,473.2 L881.1,474.8 L882.3,476.3 L883.4,477.9 L884.5,479.5 L885.6,481.1 L886.8,482.7 L887.9,484.3 L889.0,485.8 L890.2,487.4 L891.3,489.0 L892.4,490.6 L893.6,492.2 L894.7,493.8 L895.8,495.3 L897.0,496.9 L898.1,498.5 L899.2,500.1 L900.4,501.7 L901.5,503.3 L902.6,504.8 L903.8,506.4 L904.9,508.0 L906.0,509.6 L907.2,511.2 L908.3,512.8 L909.4,514.3 L910.6,515.9 L911.7,517.5 L912.8,519.1 L914.0,520.7 L915.1,522.3 L916.2,523.8 L917.4,525.4 L918.5,527.0 L919.6,528.6 L920.8,530.2 L921.9,531.8 L923.0,533.3 L924.2,534.9 L925.3,536.5 L926.4,538.1 L927.6,539.7 L928.7,541.3 L929.8,542.8 L931.0,544.4 L932.1,546.0"/>
<path d="M786.6,217.0 L787.4,218.4 L788.3,219.7 L789.1,221.1 L790.0,222.5 L790.8,223.9 L791.7,225.3 L792.5,226.6 L793.4,228.0 L794.2,229.4 L795.1,230.8 L795.9,232.1 L796.8,233.5 L797.6,234.9 L798.5,236.3 L799.3,237.6 L800.2,239.0 L801.0,240.4 L801.9,241.8 L802.7,243.1 L803.6,244.5 L804.4,245.9 L805.3,247.3 L806.1,248.6 L806.9,250.0 L807.8,251.4 L808.6,252.8 L809.5,254.1 L810.3,255.5 L811.2,256.9 L812.0,258.3 L812.9,259.6 L813.7,261.0 L814.6,262.4 L815.4,263.8 L816.3,265.1 L817.1,266.5 L818.0,267.9 L818.8,269.3 L819.7,270.6 L820.5,272.0 L821.4,273.4 L822.2,274.8 L823.0,276.1 L823.9,277.5 L824.7,278.9 L825.6,280.3 L826.4,281.6 L827.3,283.0 L828.1,284.4 L829.0,285.8 L829.8,287.1 L830.7,288.5 L831.5,289.9 L832.4,291.3 L833.2,292.6 L834.1,294.0 L834.9,295.4 L835.8,296.8 L836.6,298.2 L837.4,299.5 L838.3,300.9 L839.1,302.3 L840.0,303.7 L840.8,305.0 L841.7,306.4 L842.5,307.8 L843.4,309.2 L844.2,310.5 L845.1,311.9 L845.9,313.3 L846.8,314.7 L847.6,316.0 L848.4,317.4 L849.3,318.8 L850.1,320.2 L851.0,321.5 L851.8,322.9 L852.7,324.3 L853.5,325.7 L854.4,327.1 L855.2,328.4 L856.1,329.8 L856.9,331.2 L857.8,332.6 L858.6,333.9 L859.4,335.3 L860.3,336.7 L861.1,338.1 L862.0,339.4 L862.8,340.8 L863.7,342.2 L864.5,343.6 L865.4,344.9 L866.2,346.3 L867.1,347.7 L867.9,349.1 L868.8,350.4 L869.6,351.8 L870.4,353.2 L871.3,354.6 L872.1,356.0 L873.0,357.3 L873.8,358.7 L874.7,360.1 L875.5,361.5 L876.4,362.8 L877.2,364.2 L878.1,365.6 L878.9,367.0 L879.7,368.3 L880.6,369.7 L881.4,371.1 L882.3,372.5 L883.1,373.8 L884.0,375.2 L884.8,376.6 L885.7,378.0 L886.5,379.4 L887.4,380.7 L888.2,382.1 L889.0,383.5 L889.9,384.9 L890.7,386.2 L891.6,387.6 L892.4,389.0 L893.3,390.4 L894.1,391.7 L895.0,393.1 L895.8,394.5 L896.7,395.9 L897.5,397.3 L898.3,398.6 L899.2,400.0 L900.0,401.4 L900.9,402.8 L901.7,404.1 L902.6,405.5 L903.4,406.9 L904.3,408.3 L905.1,409.6 L906.0,411.0 L906.8,412.4 L907.6,413.8 L908.5,415.2 L909.3,416.5 L910.2,417.9 L911.0,419.3 L911.9,420.7 L912.7,422.0 L913.6,423.4 L914.4,424.8 L915.2,426.2 L916.1,427.5 L916.9,428.9 L917.8,430.3 L918.6,431.7 L919.5,433.1 L920.3,434.4 L921.2,435.8 L922.0,437.2 L922.9,438.6 L923.7,439.9 L924.5,441.3 L925.4,442.7 L926.2,444.1 L927.1,445.4 L927.9,446.8 L928.8,448.2 L929.6,449.6 L930.5,451.0 L931.3,452.3 L932.1,453.7 L933.0,455.1 L933.8,456.5 L934.7,457.8 L935.5,459.2 L936.4,460.6 L937.2,462.0 L938.1,463.4 L938.9,464.7 L939.7,466.1 L940.6,467.5 L941.4,468.9 L942.3,470.2 L943.1,471.6 L944.0,473.0 L944.8,474.4 L945.7,475.7 L946.5,477.1 L947.3,478.5 L948.2,479.9 L949.0,481.3 L949.9,482.6 L950.7,484.0 L951.6,485.4 L952.4,486.8 L953.3,488.1 L954.1,489.5 L954.9,490.9 L955.8,492.3 L956.6,493.7 L957.5,495.0 L958.3,496.4 L959.2,497.8 L960.0,499.2 L960.9,500.5 L961.7,501.9 L962.5,503.3 L963.4,504.7 L964.2,506.0 L965.1,507.4 L965.9,508.8 L966.8,510.2 L967.6,511.6 L968.4,512.9 L969.3,514.3 L970.1,515.7 L971.0,517.1 L971.8,518.4 L972.7,519.8 L973.5,521.2 L974.4,522.6 L975.2,524.0 L976.0,525.3 L976.9,526.7 L977.7,528.1 L978.6,529.5 L979.4,530.8 L980.3,532.2 L981.1,533.6 L982.0,535.0 L982.8,536.4 L983.6,537.7 L984.5,539.1 L985.3,540.5 L986.2,541.9 L987.0,543.2 L987.9,544.6 L988.7,546.0"/>
</g>
</g>
<g stroke="#000" stroke-width="0.9" fill="none">
<line x1="475" y1="86.2" x2="458.5" y2="105.8"/>
<line x1="591.8" y1="115.5" x2="562.2" y2="135"/>
<line x1="681.2" y1="147.5" x2="666.2" y2="158.2"/>
<line x1="808.8" y1="197.8" x2="793" y2="209.2"/>
</g>
<g stroke="#000" stroke-width="3.1" fill="none" stroke-linecap="butt">
<line x1="238.6" y1="51.6" x2="238.6" y2="540.15"/>
<line x1="221.4" y1="538.60" x2="238.6" y2="538.60"/>
<line x1="221.4" y1="484.27" x2="238.6" y2="484.27"/>
<line x1="221.4" y1="429.94" x2="238.6" y2="429.94"/>
<line x1="221.4" y1="375.61" x2="238.6" y2="375.61"/>
<line x1="221.4" y1="321.28" x2="238.6" y2="321.28"/>
<line x1="221.4" y1="266.95" x2="238.6" y2="266.95"/>
<line x1="221.4" y1="212.62" x2="238.6" y2="212.62"/>
<line x1="221.4" y1="158.29" x2="238.6" y2="158.29"/>
<line x1="221.4" y1="103.96" x2="238.6" y2="103.96"/>
<line x1="314.4" y1="50.81" x2="314.4" y2="540.15"/>
<line x1="297.6" y1="538.60" x2="314.4" y2="538.60"/>
<line x1="297.6" y1="498.08" x2="314.4" y2="498.08"/>
<line x1="297.6" y1="457.56" x2="314.4" y2="457.56"/>
<line x1="297.6" y1="417.04" x2="314.4" y2="417.04"/>
<line x1="297.6" y1="376.52" x2="314.4" y2="376.52"/>
<line x1="297.6" y1="336.00" x2="314.4" y2="336.00"/>
<line x1="297.6" y1="295.48" x2="314.4" y2="295.48"/>
<line x1="297.6" y1="254.96" x2="314.4" y2="254.96"/>
<line x1="297.6" y1="214.44" x2="314.4" y2="214.44"/>
<line x1="297.6" y1="173.92" x2="314.4" y2="173.92"/>
<line x1="297.6" y1="133.40" x2="314.4" y2="133.40"/>
<line x1="297.6" y1="92.88" x2="314.4" y2="92.88"/>
<line x1="297.6" y1="52.36" x2="314.4" y2="52.36"/>
</g>
<g font-family="'Liberation Sans', sans-serif" fill="#000" xml:space="preserve" style="white-space:pre">
<text transform="translate(196.12,34.70) scale(0.7381,1)" font-size="27.62" font-weight="700" font-style="normal" stroke="#000" stroke-width="1.0" vector-effect="non-scaling-stroke" stroke-linejoin="round">BAR</text>
<text transform="translate(254.73,34.70) scale(0.7366,1)" font-size="27.62" font-weight="700" font-style="normal" stroke="#000" stroke-width="1.0" vector-effect="non-scaling-stroke" stroke-linejoin="round">FEET</text>
<text transform="translate(324.60,34.70) scale(0.8184,1)" font-size="27.22" font-weight="700" font-style="normal" stroke="#000" stroke-width="1.0" vector-effect="non-scaling-stroke" stroke-linejoin="round">PSIG</text>
<text transform="translate(204.83,550.60) scale(0.8000,1)" font-size="25.29" font-weight="400" font-style="normal" stroke="#000" stroke-width="0.6" vector-effect="non-scaling-stroke" stroke-linejoin="round">0</text>
<path transform="translate(205.03,496.40) scale(0.00988,-0.01235)" d="M515,0 L515,1237 L197,1010 L197,1180 L530,1409 L696,1409 L696,0 Z" stroke="#000" stroke-width="0.6" vector-effect="non-scaling-stroke" stroke-linejoin="round"/>
<text transform="translate(205.03,496.40) scale(0.8000,1)" font-size="25.29" font-weight="400" font-style="normal" stroke="#000" stroke-width="0.6" vector-effect="non-scaling-stroke" stroke-linejoin="round"> </text>
<text transform="translate(205.03,442.20) scale(0.8000,1)" font-size="25.29" font-weight="400" font-style="normal" stroke="#000" stroke-width="0.6" vector-effect="non-scaling-stroke" stroke-linejoin="round">2</text>
<text transform="translate(204.93,388.00) scale(0.8000,1)" font-size="25.29" font-weight="400" font-style="normal" stroke="#000" stroke-width="0.6" vector-effect="non-scaling-stroke" stroke-linejoin="round">3</text>
<text transform="translate(204.63,333.80) scale(0.8000,1)" font-size="25.29" font-weight="400" font-style="normal" stroke="#000" stroke-width="0.6" vector-effect="non-scaling-stroke" stroke-linejoin="round">4</text>
<text transform="translate(204.88,279.60) scale(0.8000,1)" font-size="25.29" font-weight="400" font-style="normal" stroke="#000" stroke-width="0.6" vector-effect="non-scaling-stroke" stroke-linejoin="round">5</text>
<text transform="translate(204.93,225.40) scale(0.8000,1)" font-size="25.29" font-weight="400" font-style="normal" stroke="#000" stroke-width="0.6" vector-effect="non-scaling-stroke" stroke-linejoin="round">6</text>
<text transform="translate(205.03,171.20) scale(0.8000,1)" font-size="25.29" font-weight="400" font-style="normal" stroke="#000" stroke-width="0.6" vector-effect="non-scaling-stroke" stroke-linejoin="round">7</text>
<text transform="translate(204.93,117.00) scale(0.8000,1)" font-size="25.29" font-weight="400" font-style="normal" stroke="#000" stroke-width="0.6" vector-effect="non-scaling-stroke" stroke-linejoin="round">8</text>
<text transform="translate(280.83,548.80) scale(0.8000,1)" font-size="25.29" font-weight="400" font-style="normal" stroke="#000" stroke-width="0.6" vector-effect="non-scaling-stroke" stroke-linejoin="round">0</text>
<text transform="translate(269.65,508.47) scale(0.8000,1)" font-size="25.29" font-weight="400" font-style="normal" stroke="#000" stroke-width="0.6" vector-effect="non-scaling-stroke" stroke-linejoin="round">25</text>
<text transform="translate(269.60,468.14) scale(0.8000,1)" font-size="25.29" font-weight="400" font-style="normal" stroke="#000" stroke-width="0.6" vector-effect="non-scaling-stroke" stroke-linejoin="round">50</text>
<text transform="translate(269.65,427.81) scale(0.8000,1)" font-size="25.29" font-weight="400" font-style="normal" stroke="#000" stroke-width="0.6" vector-effect="non-scaling-stroke" stroke-linejoin="round">75</text>
<path transform="translate(258.32,387.48) scale(0.00988,-0.01235)" d="M515,0 L515,1237 L197,1010 L197,1180 L530,1409 L696,1409 L696,0 Z" stroke="#000" stroke-width="0.6" vector-effect="non-scaling-stroke" stroke-linejoin="round"/>
<text transform="translate(258.32,387.48) scale(0.8000,1)" font-size="25.29" font-weight="400" font-style="normal" stroke="#000" stroke-width="0.6" vector-effect="non-scaling-stroke" stroke-linejoin="round"> 00</text>
<path transform="translate(258.37,347.15) scale(0.00988,-0.01235)" d="M515,0 L515,1237 L197,1010 L197,1180 L530,1409 L696,1409 L696,0 Z" stroke="#000" stroke-width="0.6" vector-effect="non-scaling-stroke" stroke-linejoin="round"/>
<text transform="translate(258.37,347.15) scale(0.8000,1)" font-size="25.29" font-weight="400" font-style="normal" stroke="#000" stroke-width="0.6" vector-effect="non-scaling-stroke" stroke-linejoin="round"> 25</text>
<path transform="translate(258.32,306.82) scale(0.00988,-0.01235)" d="M515,0 L515,1237 L197,1010 L197,1180 L530,1409 L696,1409 L696,0 Z" stroke="#000" stroke-width="0.6" vector-effect="non-scaling-stroke" stroke-linejoin="round"/>
<text transform="translate(258.32,306.82) scale(0.8000,1)" font-size="25.29" font-weight="400" font-style="normal" stroke="#000" stroke-width="0.6" vector-effect="non-scaling-stroke" stroke-linejoin="round"> 50</text>
<path transform="translate(258.37,266.49) scale(0.00988,-0.01235)" d="M515,0 L515,1237 L197,1010 L197,1180 L530,1409 L696,1409 L696,0 Z" stroke="#000" stroke-width="0.6" vector-effect="non-scaling-stroke" stroke-linejoin="round"/>
<text transform="translate(258.37,266.49) scale(0.8000,1)" font-size="25.29" font-weight="400" font-style="normal" stroke="#000" stroke-width="0.6" vector-effect="non-scaling-stroke" stroke-linejoin="round"> 75</text>
<text transform="translate(258.32,226.16) scale(0.8000,1)" font-size="25.29" font-weight="400" font-style="normal" stroke="#000" stroke-width="0.6" vector-effect="non-scaling-stroke" stroke-linejoin="round">200</text>
<text transform="translate(258.37,185.83) scale(0.8000,1)" font-size="25.29" font-weight="400" font-style="normal" stroke="#000" stroke-width="0.6" vector-effect="non-scaling-stroke" stroke-linejoin="round">225</text>
<text transform="translate(258.32,145.50) scale(0.8000,1)" font-size="25.29" font-weight="400" font-style="normal" stroke="#000" stroke-width="0.6" vector-effect="non-scaling-stroke" stroke-linejoin="round">250</text>
<text transform="translate(258.37,105.17) scale(0.8000,1)" font-size="25.29" font-weight="400" font-style="normal" stroke="#000" stroke-width="0.6" vector-effect="non-scaling-stroke" stroke-linejoin="round">275</text>
<text transform="translate(258.32,64.84) scale(0.8000,1)" font-size="25.29" font-weight="400" font-style="normal" stroke="#000" stroke-width="0.6" vector-effect="non-scaling-stroke" stroke-linejoin="round">300</text>
<path transform="translate(341.92,98.10) scale(0.00988,-0.01235)" d="M515,0 L515,1237 L197,1010 L197,1180 L530,1409 L696,1409 L696,0 Z" stroke="#000" stroke-width="0.6" vector-effect="non-scaling-stroke" stroke-linejoin="round"/>
<text transform="translate(341.92,98.10) scale(0.8000,1)" font-size="25.29" font-weight="400" font-style="normal" stroke="#000" stroke-width="0.6" vector-effect="non-scaling-stroke" stroke-linejoin="round"> 20</text>
<path transform="translate(341.92,173.70) scale(0.00988,-0.01235)" d="M515,0 L515,1237 L197,1010 L197,1180 L530,1409 L696,1409 L696,0 Z" stroke="#000" stroke-width="0.6" vector-effect="non-scaling-stroke" stroke-linejoin="round"/>
<text transform="translate(341.92,173.70) scale(0.8000,1)" font-size="25.29" font-weight="400" font-style="normal" stroke="#000" stroke-width="0.6" vector-effect="non-scaling-stroke" stroke-linejoin="round"> 00</text>
<text transform="translate(353.20,248.70) scale(0.8000,1)" font-size="25.29" font-weight="400" font-style="normal" stroke="#000" stroke-width="0.6" vector-effect="non-scaling-stroke" stroke-linejoin="round">80</text>
<text transform="translate(353.20,323.00) scale(0.8000,1)" font-size="25.29" font-weight="400" font-style="normal" stroke="#000" stroke-width="0.6" vector-effect="non-scaling-stroke" stroke-linejoin="round">60</text>
<text transform="translate(353.20,397.70) scale(0.8000,1)" font-size="25.29" font-weight="400" font-style="normal" stroke="#000" stroke-width="0.6" vector-effect="non-scaling-stroke" stroke-linejoin="round">40</text>
<text transform="translate(353.20,472.70) scale(0.8000,1)" font-size="25.29" font-weight="400" font-style="normal" stroke="#000" stroke-width="0.6" vector-effect="non-scaling-stroke" stroke-linejoin="round">20</text>
<text transform="translate(364.43,550.10) scale(0.8000,1)" font-size="25.29" font-weight="400" font-style="normal" stroke="#000" stroke-width="0.6" vector-effect="non-scaling-stroke" stroke-linejoin="round">0</text>
<text transform="rotate(-90) translate(-380.58,174.30) scale(0.8354,1)" font-size="26.16" font-weight="700" font-style="normal" stroke="#000" stroke-width="1.0" vector-effect="non-scaling-stroke" stroke-linejoin="round">Discharge Pressure</text>
<text transform="translate(550.50,643.50) scale(0.8821,1)" font-size="30.52" font-weight="700" font-style="normal" stroke="#000" stroke-width="1.0" vector-effect="non-scaling-stroke" stroke-linejoin="round">Water Discharge Flow Rates</text>
<text transform="translate(339.48,576.10) scale(0.9234,1)" font-size="27.62" font-weight="700" font-style="normal" stroke="#000" stroke-width="1.0" vector-effect="non-scaling-stroke" stroke-linejoin="round">GPM</text>
<text transform="translate(335.87,600.65) scale(0.9511,0.9668)" font-size="27.47" font-weight="400" font-style="italic" stroke="#000" stroke-width="0.7" vector-effect="non-scaling-stroke" stroke-linejoin="round">[</text>
<text transform="translate(343.13,602.25) scale(0.9511,1)" font-size="27.47" font-weight="400" font-style="italic" stroke="#000" stroke-width="0.7" vector-effect="non-scaling-stroke" stroke-linejoin="round">LPM</text>
<text transform="translate(396.85,600.65) scale(0.9511,0.9668)" font-size="27.47" font-weight="400" font-style="italic" stroke="#000" stroke-width="0.7" vector-effect="non-scaling-stroke" stroke-linejoin="round">]</text>
<text transform="translate(450.60,572.40) scale(0.8880,1)" font-size="28.94" font-weight="700" font-style="normal" stroke="#000" stroke-width="1.0" vector-effect="non-scaling-stroke" stroke-linejoin="round">2</text>
<text transform="translate(447.73,596.83) scale(0.8137,0.9120)" font-size="23.35" font-weight="400" font-style="italic" stroke="#000" stroke-width="0.7" vector-effect="non-scaling-stroke" stroke-linejoin="round">[</text>
<text transform="translate(453.01,599.05) scale(0.8137,1)" font-size="23.35" font-weight="400" font-style="italic" stroke="#000" stroke-width="0.7" vector-effect="non-scaling-stroke" stroke-linejoin="round">8</text>
<text transform="translate(463.58,596.83) scale(0.8137,0.9120)" font-size="23.35" font-weight="400" font-style="italic" stroke="#000" stroke-width="0.7" vector-effect="non-scaling-stroke" stroke-linejoin="round">]</text>
<text transform="translate(529.15,572.40) scale(0.7972,1)" font-size="28.94" font-weight="700" font-style="normal" stroke="#000" stroke-width="1.0" vector-effect="non-scaling-stroke" stroke-linejoin="round">4</text>
<text transform="translate(519.33,596.83) scale(0.8201,0.9120)" font-size="23.35" font-weight="400" font-style="italic" stroke="#000" stroke-width="0.7" vector-effect="non-scaling-stroke" stroke-linejoin="round">[</text>
<path transform="translate(524.65,599.05) scale(0.00935,-0.01140)" d="M412.3,0 L650,1223 L289,1000 L324,1180 L701,1409 L867,1409 L593.3,0 Z" stroke="#000" stroke-width="0.7" vector-effect="non-scaling-stroke" stroke-linejoin="round"/>
<text transform="translate(524.65,599.05) scale(0.8201,1)" font-size="23.35" font-weight="400" font-style="italic" stroke="#000" stroke-width="0.7" vector-effect="non-scaling-stroke" stroke-linejoin="round"> 5</text>
<text transform="translate(545.96,596.83) scale(0.8201,0.9120)" font-size="23.35" font-weight="400" font-style="italic" stroke="#000" stroke-width="0.7" vector-effect="non-scaling-stroke" stroke-linejoin="round">]</text>
<text transform="translate(605.61,572.40) scale(0.8835,1)" font-size="28.94" font-weight="700" font-style="normal" stroke="#000" stroke-width="1.0" vector-effect="non-scaling-stroke" stroke-linejoin="round">6</text>
<text transform="translate(596.33,596.83) scale(0.8201,0.9120)" font-size="23.35" font-weight="400" font-style="italic" stroke="#000" stroke-width="0.7" vector-effect="non-scaling-stroke" stroke-linejoin="round">[</text>
<text transform="translate(601.65,599.05) scale(0.8201,1)" font-size="23.35" font-weight="400" font-style="italic" stroke="#000" stroke-width="0.7" vector-effect="non-scaling-stroke" stroke-linejoin="round">23</text>
<text transform="translate(622.96,596.83) scale(0.8201,0.9120)" font-size="23.35" font-weight="400" font-style="italic" stroke="#000" stroke-width="0.7" vector-effect="non-scaling-stroke" stroke-linejoin="round">]</text>
<text transform="translate(682.74,572.40) scale(0.8796,1)" font-size="28.94" font-weight="700" font-style="normal" stroke="#000" stroke-width="1.0" vector-effect="non-scaling-stroke" stroke-linejoin="round">8</text>
<text transform="translate(673.73,596.83) scale(0.8201,0.9120)" font-size="23.35" font-weight="400" font-style="italic" stroke="#000" stroke-width="0.7" vector-effect="non-scaling-stroke" stroke-linejoin="round">[</text>
<text transform="translate(679.05,599.05) scale(0.8201,1)" font-size="23.35" font-weight="400" font-style="italic" stroke="#000" stroke-width="0.7" vector-effect="non-scaling-stroke" stroke-linejoin="round">30</text>
<text transform="translate(700.36,596.83) scale(0.8201,0.9120)" font-size="23.35" font-weight="400" font-style="italic" stroke="#000" stroke-width="0.7" vector-effect="non-scaling-stroke" stroke-linejoin="round">]</text>
<path transform="translate(753.95,572.40) scale(0.01212,-0.01413)" d="M478,0 L478,1170 L140,959 L140,1180 L493,1409 L759,1409 L759,0 Z" stroke="#000" stroke-width="1.0" vector-effect="non-scaling-stroke" stroke-linejoin="round"/>
<text transform="translate(753.95,572.40) scale(0.8574,1)" font-size="28.94" font-weight="700" font-style="normal" stroke="#000" stroke-width="1.0" vector-effect="non-scaling-stroke" stroke-linejoin="round"> 0</text>
<text transform="translate(751.13,596.83) scale(0.8151,0.9120)" font-size="23.35" font-weight="400" font-style="italic" stroke="#000" stroke-width="0.7" vector-effect="non-scaling-stroke" stroke-linejoin="round">[</text>
<text transform="translate(756.42,599.05) scale(0.8151,1)" font-size="23.35" font-weight="400" font-style="italic" stroke="#000" stroke-width="0.7" vector-effect="non-scaling-stroke" stroke-linejoin="round">38</text>
<text transform="translate(777.59,596.83) scale(0.8151,0.9120)" font-size="23.35" font-weight="400" font-style="italic" stroke="#000" stroke-width="0.7" vector-effect="non-scaling-stroke" stroke-linejoin="round">]</text>
<path transform="translate(830.55,572.40) scale(0.01209,-0.01413)" d="M478,0 L478,1170 L140,959 L140,1180 L493,1409 L759,1409 L759,0 Z" stroke="#000" stroke-width="1.0" vector-effect="non-scaling-stroke" stroke-linejoin="round"/>
<text transform="translate(830.55,572.40) scale(0.8553,1)" font-size="28.94" font-weight="700" font-style="normal" stroke="#000" stroke-width="1.0" vector-effect="non-scaling-stroke" stroke-linejoin="round"> 2</text>
<text transform="translate(827.34,596.83) scale(0.8351,0.9120)" font-size="23.35" font-weight="400" font-style="italic" stroke="#000" stroke-width="0.7" vector-effect="non-scaling-stroke" stroke-linejoin="round">[</text>
<text transform="translate(832.76,599.05) scale(0.8351,1)" font-size="23.35" font-weight="400" font-style="italic" stroke="#000" stroke-width="0.7" vector-effect="non-scaling-stroke" stroke-linejoin="round">45</text>
<text transform="translate(854.45,596.83) scale(0.8351,0.9120)" font-size="23.35" font-weight="400" font-style="italic" stroke="#000" stroke-width="0.7" vector-effect="non-scaling-stroke" stroke-linejoin="round">]</text>
<path transform="translate(907.03,572.40) scale(0.01149,-0.01413)" d="M478,0 L478,1170 L140,959 L140,1180 L493,1409 L759,1409 L759,0 Z" stroke="#000" stroke-width="1.0" vector-effect="non-scaling-stroke" stroke-linejoin="round"/>
<text transform="translate(907.03,572.40) scale(0.8134,1)" font-size="28.94" font-weight="700" font-style="normal" stroke="#000" stroke-width="1.0" vector-effect="non-scaling-stroke" stroke-linejoin="round"> 4</text>
<text transform="translate(904.74,596.83) scale(0.8351,0.9120)" font-size="23.35" font-weight="400" font-style="italic" stroke="#000" stroke-width="0.7" vector-effect="non-scaling-stroke" stroke-linejoin="round">[</text>
<text transform="translate(910.16,599.05) scale(0.8351,1)" font-size="23.35" font-weight="400" font-style="italic" stroke="#000" stroke-width="0.7" vector-effect="non-scaling-stroke" stroke-linejoin="round">53</text>
<text transform="translate(931.85,596.83) scale(0.8351,0.9120)" font-size="23.35" font-weight="400" font-style="italic" stroke="#000" stroke-width="0.7" vector-effect="non-scaling-stroke" stroke-linejoin="round">]</text>
<path transform="translate(984.56,572.40) scale(0.01206,-0.01413)" d="M478,0 L478,1170 L140,959 L140,1180 L493,1409 L759,1409 L759,0 Z" stroke="#000" stroke-width="1.0" vector-effect="non-scaling-stroke" stroke-linejoin="round"/>
<text transform="translate(984.56,572.40) scale(0.8532,1)" font-size="28.94" font-weight="700" font-style="normal" stroke="#000" stroke-width="1.0" vector-effect="non-scaling-stroke" stroke-linejoin="round"> 6</text>
<text transform="translate(982.33,596.83) scale(0.8201,0.9120)" font-size="23.35" font-weight="400" font-style="italic" stroke="#000" stroke-width="0.7" vector-effect="non-scaling-stroke" stroke-linejoin="round">[</text>
<path transform="translate(998.31,599.05) scale(0.00935,-0.01140)" d="M412.3,0 L650,1223 L289,1000 L324,1180 L701,1409 L867,1409 L593.3,0 Z" stroke="#000" stroke-width="0.7" vector-effect="non-scaling-stroke" stroke-linejoin="round"/>
<text transform="translate(987.65,599.05) scale(0.8201,1)" font-size="23.35" font-weight="400" font-style="italic" stroke="#000" stroke-width="0.7" vector-effect="non-scaling-stroke" stroke-linejoin="round">6 </text>
<text transform="translate(1008.96,596.83) scale(0.8201,0.9120)" font-size="23.35" font-weight="400" font-style="italic" stroke="#000" stroke-width="0.7" vector-effect="non-scaling-stroke" stroke-linejoin="round">]</text>
<text transform="translate(785.94,121.20) scale(0.8428,1)" font-size="29.65" font-weight="400" font-style="normal" stroke="#000" stroke-width="0.6" vector-effect="non-scaling-stroke" stroke-linejoin="round">AIR CONSUMPTION</text>
<text transform="translate(813.31,146.21) scale(0.7673,0.9223)" font-size="30.0" font-weight="400" font-style="normal" stroke="#000" stroke-width="1.1" vector-effect="non-scaling-stroke" stroke-linejoin="round">(</text>
<text transform="translate(822.82,147.70) scale(0.8659,1)" font-size="28.37" font-weight="700" font-style="normal" stroke="#000" stroke-width="1.0" vector-effect="non-scaling-stroke" stroke-linejoin="round">SCFM</text>
<text transform="translate(893.19,146.21) scale(0.7170,0.9223)" font-size="30.0" font-weight="400" font-style="normal" stroke="#000" stroke-width="1.1" vector-effect="non-scaling-stroke" stroke-linejoin="round">)</text>
<text transform="translate(908.76,146.02) scale(0.6842,0.9044)" font-size="30.0" font-weight="400" font-style="italic" stroke="#000" stroke-width="0.7" vector-effect="non-scaling-stroke" stroke-linejoin="round">[</text>
<text transform="translate(916.59,148.15) scale(0.8542,1)" font-size="29.51" font-weight="400" font-style="italic" stroke="#000" stroke-width="0.7" vector-effect="non-scaling-stroke" stroke-linejoin="round">Nm</text>
<text transform="translate(958.74,135.15) scale(0.9379,1)" font-size="15.47" font-weight="700" font-style="italic" stroke="#000" stroke-width="0.7" vector-effect="non-scaling-stroke" stroke-linejoin="round">3</text>
<text transform="translate(964.02,150.33) scale(0.9704,1.0794)" font-size="30.0" font-weight="400" font-style="italic" stroke="#000" stroke-width="0.7" vector-effect="non-scaling-stroke" stroke-linejoin="round">/</text>
<text transform="translate(974.04,148.15) scale(0.7258,1)" font-size="28.67" font-weight="400" font-style="italic" stroke="#000" stroke-width="0.7" vector-effect="non-scaling-stroke" stroke-linejoin="round">h</text>
<text transform="translate(988.48,146.02) scale(0.8596,0.9044)" font-size="30.0" font-weight="400" font-style="italic" stroke="#000" stroke-width="0.7" vector-effect="non-scaling-stroke" stroke-linejoin="round">]</text>
<text transform="translate(477.45,91.70) scale(0.7221,1)" font-size="22.67" font-weight="700" font-style="normal" stroke="#000" stroke-width="1.0" vector-effect="non-scaling-stroke" stroke-linejoin="round">4</text>
<text transform="translate(489.45,90.13) scale(0.9402,0.9662)" font-size="22.56" font-weight="400" font-style="italic" stroke="#000" stroke-width="0.65" vector-effect="non-scaling-stroke" stroke-linejoin="round">[</text>
<text transform="translate(495.34,91.88) scale(0.9402,1)" font-size="22.56" font-weight="400" font-style="italic" stroke="#000" stroke-width="0.65" vector-effect="non-scaling-stroke" stroke-linejoin="round">7</text>
<text transform="translate(507.14,90.13) scale(0.9402,0.9662)" font-size="22.56" font-weight="400" font-style="italic" stroke="#000" stroke-width="0.65" vector-effect="non-scaling-stroke" stroke-linejoin="round">]</text>
<text transform="translate(593.74,114.50) scale(0.8197,1)" font-size="22.67" font-weight="700" font-style="normal" stroke="#000" stroke-width="1.0" vector-effect="non-scaling-stroke" stroke-linejoin="round">8</text>
<text transform="translate(605.94,112.93) scale(0.9123,0.9662)" font-size="22.56" font-weight="400" font-style="italic" stroke="#000" stroke-width="0.65" vector-effect="non-scaling-stroke" stroke-linejoin="round">[</text>
<path transform="translate(611.66,114.67) scale(0.01005,-0.01102)" d="M412.3,0 L650,1223 L289,1000 L324,1180 L701,1409 L867,1409 L593.3,0 Z" stroke="#000" stroke-width="0.65" vector-effect="non-scaling-stroke" stroke-linejoin="round"/>
<text transform="translate(611.66,114.67) scale(0.9123,1)" font-size="22.56" font-weight="400" font-style="italic" stroke="#000" stroke-width="0.65" vector-effect="non-scaling-stroke" stroke-linejoin="round"> 4</text>
<text transform="translate(634.55,112.93) scale(0.9123,0.9662)" font-size="22.56" font-weight="400" font-style="italic" stroke="#000" stroke-width="0.65" vector-effect="non-scaling-stroke" stroke-linejoin="round">]</text>
<path transform="translate(683.79,151.50) scale(0.00943,-0.01107)" d="M478,0 L478,1170 L140,959 L140,1180 L493,1409 L759,1409 L759,0 Z" stroke="#000" stroke-width="1.0" vector-effect="non-scaling-stroke" stroke-linejoin="round"/>
<text transform="translate(683.79,151.50) scale(0.8515,1)" font-size="22.67" font-weight="700" font-style="normal" stroke="#000" stroke-width="1.0" vector-effect="non-scaling-stroke" stroke-linejoin="round"> 2</text>
<text transform="translate(706.24,149.93) scale(0.9175,0.9662)" font-size="22.56" font-weight="400" font-style="italic" stroke="#000" stroke-width="0.65" vector-effect="non-scaling-stroke" stroke-linejoin="round">[</text>
<text transform="translate(711.99,151.68) scale(0.9175,1)" font-size="22.56" font-weight="400" font-style="italic" stroke="#000" stroke-width="0.65" vector-effect="non-scaling-stroke" stroke-linejoin="round">20</text>
<text transform="translate(735.02,149.93) scale(0.9175,0.9662)" font-size="22.56" font-weight="400" font-style="italic" stroke="#000" stroke-width="0.65" vector-effect="non-scaling-stroke" stroke-linejoin="round">]</text>
<path transform="translate(813.33,200.50) scale(0.00916,-0.01107)" d="M478,0 L478,1170 L140,959 L140,1180 L493,1409 L759,1409 L759,0 Z" stroke="#000" stroke-width="1.0" vector-effect="non-scaling-stroke" stroke-linejoin="round"/>
<text transform="translate(813.33,200.50) scale(0.8276,1)" font-size="22.67" font-weight="700" font-style="normal" stroke="#000" stroke-width="1.0" vector-effect="non-scaling-stroke" stroke-linejoin="round"> 6</text>
<text transform="translate(836.23,198.93) scale(0.9045,0.9662)" font-size="22.56" font-weight="400" font-style="italic" stroke="#000" stroke-width="0.65" vector-effect="non-scaling-stroke" stroke-linejoin="round">[</text>
<text transform="translate(841.90,200.68) scale(0.9045,1)" font-size="22.56" font-weight="400" font-style="italic" stroke="#000" stroke-width="0.65" vector-effect="non-scaling-stroke" stroke-linejoin="round">27</text>
<text transform="translate(864.61,198.93) scale(0.9045,0.9662)" font-size="22.56" font-weight="400" font-style="italic" stroke="#000" stroke-width="0.65" vector-effect="non-scaling-stroke" stroke-linejoin="round">]</text>
</g>
</svg>
</body></html>
